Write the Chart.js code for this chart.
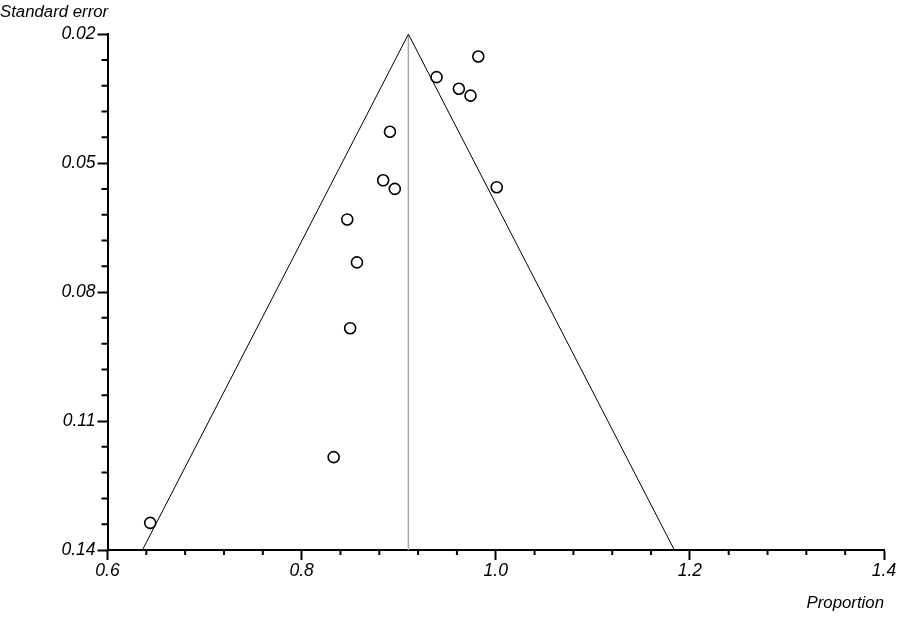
<!DOCTYPE html>
<html>
<head>
<meta charset="utf-8">
<script src="https://cdn.jsdelivr.net/npm/chart.js@4"></script>
<style>
  html, body { margin: 0; padding: 0; background: #fff; }
  #wrap { width: 898px; height: 617px; }
</style>
</head>
<body>
<div id="wrap"><canvas id="funnel-canvas"></canvas></div>
<script>
// study estimates (proportion) and their standard errors
const proportions = [0.982, 0.939, 0.962, 0.974, 0.891, 0.884, 0.896, 1.001, 0.847, 0.857, 0.850, 0.833, 0.644];
const standardErrors = [0.0252, 0.0300, 0.0327, 0.0343, 0.0427, 0.0540, 0.0560, 0.0556, 0.0631, 0.0731, 0.0884, 0.1184, 0.1337];
// pooled proportion and the funnel limits at the largest SE
const pooled = 0.910;
const funnelLow = 0.636;
const funnelHigh = 1.184;
const seTop = 0.02;
const seBottom = 0.14;
// axes
const xTickValues = [0.6, 0.8, 1.0, 1.2, 1.4];
const yTickValues = [0.02, 0.05, 0.08, 0.11, 0.14];
const minorPerMajor = 5;

const FONT = "'Liberation Sans', Arial, sans-serif";

function minorValues(majors) {
  let out = [];
  for (let i = 0; i < majors.length - 1; i++) {
    const step = (majors[i + 1] - majors[i]) / minorPerMajor;
    for (let k = 1; k < minorPerMajor; k++) out.push(majors[i] + k * step);
  }
  return out;
}

// little plugin for the short minor ticks, drawn through the scales
const minorTicks = {
  id: "minorTicks",
  afterDraw(chart) {
    const ctx = chart.ctx;
    const xs = chart.scales.x;
    const ys = chart.scales.y;
    ctx.save();
    ctx.strokeStyle = "#000";
    ctx.lineWidth = 2;
    ctx.beginPath();
    minorValues(xTickValues).forEach((v) => {
      const px = xs.getPixelForValue(v);
      ctx.moveTo(px, xs.top);
      ctx.lineTo(px, xs.top + 5);
    });
    minorValues(yTickValues).forEach((v) => {
      const py = ys.getPixelForValue(v);
      ctx.moveTo(ys.right, py);
      ctx.lineTo(ys.right - 6, py);
    });
    ctx.stroke();
    ctx.restore();
  },
};

const points = proportions.map((p, i) => ({ x: p, y: standardErrors[i] }));

const config = {
  type: "scatter",
  data: {
    datasets: [
      {
        label: "Studies",
        data: points,
        pointRadius: 5.5,
        pointBorderWidth: 1.6,
        pointBorderColor: "#000",
        pointBackgroundColor: "rgba(0,0,0,0)",
        order: 0,
      },
      {
        label: "Funnel",
        data: [
          { x: funnelLow, y: seBottom },
          { x: pooled, y: seTop },
          { x: funnelHigh, y: seBottom },
        ],
        showLine: true,
        borderColor: "#000",
        borderWidth: 1,
        pointRadius: 0,
        order: 1,
      },
      {
        label: "Pooled",
        data: [
          { x: pooled, y: seTop },
          { x: pooled, y: seBottom },
        ],
        showLine: true,
        borderColor: "#a8a8a8",
        borderWidth: 1.5,
        pointRadius: 0,
        order: 2,
      },
    ],
  },
  options: {
    responsive: true,
    maintainAspectRatio: false,
    animation: false,
    layout: { padding: { left: 0, right: 14, top: 0, bottom: 0 } },
    plugins: {
      legend: { display: false },
      tooltip: { enabled: false },
      title: {
        display: true,
        text: "Standard error",
        align: "start",
        color: "#000",
        font: { family: FONT, size: 16.8, style: "italic", weight: "normal" },
        padding: { top: 2, bottom: 12 },
      },
    },
    scales: {
      x: {
        type: "linear",
        min: 0.6,
        max: 1.4,
        afterBuildTicks: (scale) => {
          scale.ticks = xTickValues.map((v) => ({ value: v }));
        },
        afterFit: (scale) => {
          scale.height = 67;
        },
        grid: {
          drawOnChartArea: false,
          tickLength: 10,
          tickWidth: 2,
          tickColor: "#000",
        },
        border: { color: "#000", width: 2 },
        ticks: {
          autoSkip: false,
          maxRotation: 0,
          padding: 1,
          color: "#000",
          font: { family: FONT, size: 17.5, style: "italic" },
          callback: (v) => Number(v).toFixed(1),
        },
        title: {
          display: true,
          text: "Proportion",
          align: "end",
          color: "#000",
          font: { family: FONT, size: 16.8, style: "italic" },
          padding: { top: 7 },
        },
      },
      y: {
        type: "linear",
        min: seTop,
        max: seBottom,
        reverse: true,
        afterBuildTicks: (scale) => {
          scale.ticks = yTickValues.map((v) => ({ value: v }));
        },
        afterFit: (scale) => {
          scale.width = 107.5;
        },
        grid: {
          drawOnChartArea: false,
          tickLength: 10,
          tickWidth: 2,
          tickColor: "#000",
        },
        border: { color: "#000", width: 2 },
        ticks: {
          autoSkip: false,
          padding: 2,
          color: "#000",
          font: { family: FONT, size: 17.5, style: "italic" },
          callback: (v) => Number(v).toFixed(2),
        },
      },
    },
  },
  plugins: [minorTicks],
};

const ctx = document.getElementById("funnel-canvas").getContext("2d");
let myChart = new Chart(ctx, config);
</script>
</body>
</html>
